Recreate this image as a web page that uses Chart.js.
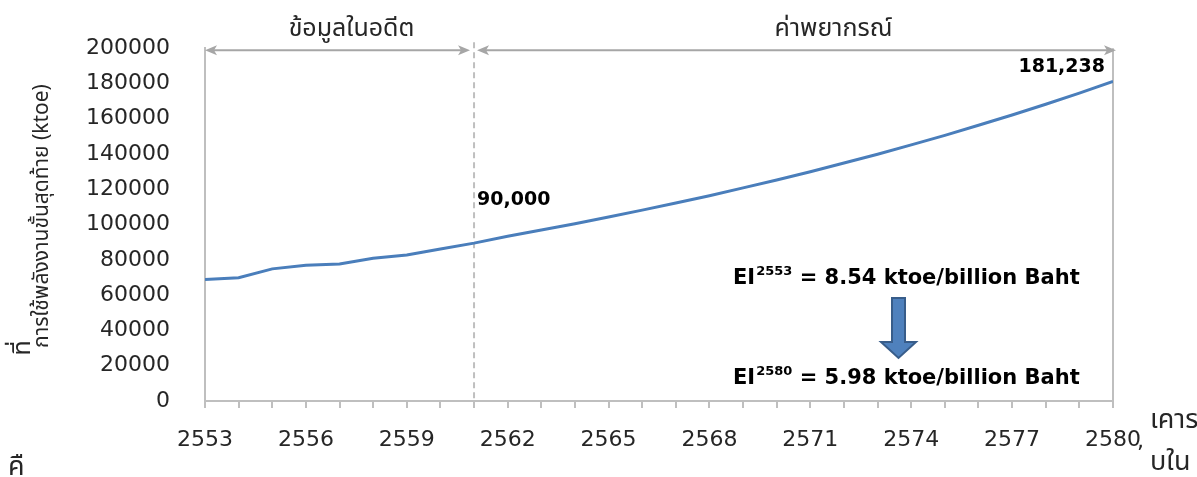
<!DOCTYPE html>
<html>
<head>
<meta charset="utf-8">
<script src="https://cdn.jsdelivr.net/npm/chart.js@4/dist/chart.umd.min.js"></script>
<style>
  html, body { margin: 0; padding: 0; background: #fff; }
  canvas { display: block; }
</style>
</head>
<body>
<canvas id="energy-chart" width="1197" height="477"></canvas>
<script>
// data (ktoe)
const years = [2553, 2554, 2555, 2556, 2557, 2558, 2559, 2560, 2561, 2562, 2563, 2564, 2565, 2566,
  2567, 2568, 2569, 2570, 2571, 2572, 2573, 2574, 2575, 2576, 2577, 2578, 2579, 2580];
const energyUse = [68900, 69900, 74900, 77000, 77700, 80900, 82800, 86200, 89500, 93400, 96900, 100500, 104300, 108200,
  112200, 116400, 120800, 125300, 130000, 134900, 139900, 145200, 150600, 156300, 162100, 168200, 174500, 181238];
const xLabelYears = [2553, 2556, 2559, 2562, 2565, 2568, 2571, 2574, 2577, 2580];
const yTicks = [0, 20000, 40000, 60000, 80000, 100000, 120000, 140000, 160000, 180000, 200000];
const splitYear = 2561;
const pastLabel = 'ข้อมูลในอดีต';
const forecastLabel = 'ค่าพยากรณ์';
const yTitle = 'การใช้พลังงานขั้นสุดท้าย (ktoe)';
const startLabel = '90,000';
const endLabel = '181,238';
const eiLines = [
  { sup: '2553', text: ' = 8.54 ktoe/billion Baht' },
  { sup: '2580', text: ' = 5.98 ktoe/billion Baht' }
];

const numFont = "'DejaVu Sans', Verdana, sans-serif";
const thaiFont = "'Noto Sans', 'Noto Sans Thai', Tahoma, sans-serif";
const grey = '#bfbfbf';
const textColor = '#262626';

function arrowHead(ctx, x, y, dir) {
  ctx.beginPath();
  ctx.moveTo(x, y);
  ctx.lineTo(x - dir * 12, y - 5);
  ctx.lineTo(x - dir * 9, y);
  ctx.lineTo(x - dir * 12, y + 5);
  ctx.closePath();
  ctx.fill();
}

function doubleArrow(ctx, x1, x2, y) {
  ctx.save();
  ctx.strokeStyle = '#a6a6a6';
  ctx.fillStyle = '#a6a6a6';
  ctx.lineWidth = 2;
  ctx.beginPath();
  ctx.moveTo(x1 + 4, y);
  ctx.lineTo(x2 - 4, y);
  ctx.stroke();
  arrowHead(ctx, x1, y, -1);
  arrowHead(ctx, x2, y, 1);
  ctx.restore();
}

const decorations = {
  id: 'decorations',
  beforeDatasetsDraw(chart) {
    const ctx = chart.ctx;
    const area = chart.chartArea;
    const xs = chart.scales.x;
    ctx.save();
    // right frame line
    ctx.strokeStyle = grey;
    ctx.lineWidth = 2;
    ctx.beginPath();
    ctx.moveTo(area.right, area.top);
    ctx.lineTo(area.right, area.bottom);
    ctx.stroke();
    // dashed split line
    const sx = xs.getPixelForValue(splitYear);
    ctx.setLineDash([6, 4]);
    ctx.beginPath();
    ctx.moveTo(sx, area.top - 6);
    ctx.lineTo(sx, area.bottom);
    ctx.stroke();
    ctx.restore();
  },
  afterDraw(chart) {
    const ctx = chart.ctx;
    const area = chart.chartArea;
    const xs = chart.scales.x;
    const ys = chart.scales.y;
    const sx = xs.getPixelForValue(splitYear);
    const ay = area.top + 2;

    doubleArrow(ctx, area.left, sx - 4, ay);
    doubleArrow(ctx, sx + 3, area.right + 3, ay);

    ctx.save();
    ctx.fillStyle = textColor;
    ctx.font = '25px ' + thaiFont;
    ctx.textAlign = 'center';
    ctx.textBaseline = 'alphabetic';
    ctx.fillText(pastLabel, (area.left + sx) / 2 + 12, 36);
    ctx.fillText(forecastLabel, (sx + area.right) / 2 + 40, 36);

    // value labels
    ctx.fillStyle = '#000';
    ctx.font = 'bold 19px ' + numFont;
    ctx.textAlign = 'left';
    ctx.fillText(startLabel, sx + 3, ys.getPixelForValue(energyUse[years.indexOf(splitYear)]) - 38);
    ctx.textAlign = 'right';
    ctx.fillText(endLabel, area.right - 8, ys.getPixelForValue(energyUse[energyUse.length - 1]) - 9);

    // EI annotations
    ctx.textAlign = 'left';
    const eiX = 733;
    const eiY = [284, 384];
    eiLines.forEach(function(line, i) {
      let x = eiX;
      ctx.font = 'bold 21px ' + numFont;
      ctx.fillText('EI', x, eiY[i]);
      x += ctx.measureText('EI').width + 1;
      ctx.font = 'bold 13px ' + numFont;
      ctx.fillText(line.sup, x, eiY[i] - 9);
      x += ctx.measureText(line.sup).width;
      ctx.font = 'bold 21px ' + numFont;
      ctx.fillText(line.text, x, eiY[i]);
    });

    // blue down arrow
    ctx.fillStyle = '#4f81bd';
    ctx.strokeStyle = '#385d8a';
    ctx.lineWidth = 2;
    ctx.beginPath();
    ctx.moveTo(892, 298);
    ctx.lineTo(905, 298);
    ctx.lineTo(905, 342);
    ctx.lineTo(916, 342);
    ctx.lineTo(898.5, 358);
    ctx.lineTo(881, 342);
    ctx.lineTo(892, 342);
    ctx.closePath();
    ctx.fill();
    ctx.stroke();

    // y axis title
    ctx.fillStyle = textColor;
    ctx.font = '21px ' + thaiFont;
    ctx.textAlign = 'center';
    ctx.save();
    ctx.translate(48, 216);
    ctx.rotate(-Math.PI / 2);
    ctx.fillText(yTitle, 0, 0);
    ctx.restore();
    ctx.save();
    ctx.translate(30, 348);
    ctx.rotate(-Math.PI / 2);
    ctx.font = '25px ' + thaiFont;
    ctx.fillText('ที่', 0, 0);
    ctx.restore();

    // text of the surrounding page, cut by the crop
    ctx.font = '27px ' + thaiFont;
    ctx.textAlign = 'left';
    ctx.fillText('คื', 8, 475);
    ctx.fillText('เคาร', 1150, 428);
    ctx.fillText('บใน', 1150, 470);
    ctx.font = '22px ' + numFont;
    ctx.fillText(',', 1137, 448);
    ctx.restore();
  }
};

new Chart(document.getElementById('energy-chart'), {
  type: 'line',
  data: {
    datasets: [{
      data: years.map(function(y, i) { return { x: y, y: energyUse[i] }; }),
      borderColor: '#4a7ebb',
      borderWidth: 3,
      pointRadius: 0,
      tension: 0,
      fill: false
    }]
  },
  options: {
    responsive: false,
    animation: false,
    layout: { padding: { left: 0, right: 84, top: 45, bottom: 0 } },
    plugins: { legend: { display: false }, tooltip: { enabled: false } },
    scales: {
      x: {
        type: 'linear',
        min: years[0],
        max: years[years.length - 1],
        afterFit: function(scale) { scale.height = 76; },
        ticks: {
          stepSize: 1,
          autoSkip: false,
          maxRotation: 0,
          padding: 19,
          color: textColor,
          font: { family: numFont, size: 22 },
          callback: function(v) { return xLabelYears.includes(v) ? String(v) : ''; }
        },
        grid: { drawOnChartArea: false, drawTicks: true, tickLength: 7, color: grey, lineWidth: 2 },
        border: { color: grey, width: 2 }
      },
      y: {
        min: yTicks[0],
        max: yTicks[yTicks.length - 1],
        afterFit: function(scale) { scale.width = 205; },
        afterBuildTicks: function(scale) { scale.ticks = yTicks.map(function(v) { return { value: v }; }); },
        ticks: {
          padding: 35,
          color: textColor,
          font: { family: numFont, size: 22 },
          callback: function(v) { return String(v); }
        },
        grid: { drawOnChartArea: false, drawTicks: false },
        border: { color: grey, width: 2 }
      }
    }
  },
  plugins: [decorations]
});
</script>
</body>
</html>
